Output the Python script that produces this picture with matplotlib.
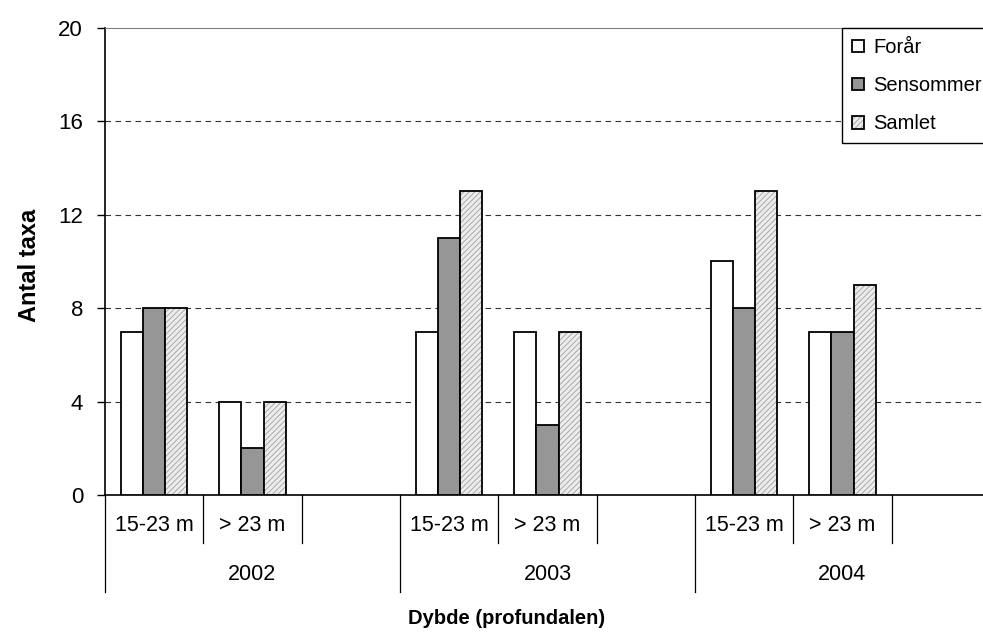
import matplotlib
matplotlib.use("Agg")
import matplotlib.pyplot as plt
import matplotlib.transforms as mtransforms
import numpy as np

plt.rcParams.update({
    "font.family": ["Liberation Sans", "DejaVu Sans"],
    "hatch.linewidth": 0.6,
})

# data
years = ["2002", "2003", "2004"]
depths = ["15-23 m", "> 23 m"]
series = ["Forår", "Sensommer", "Samlet"]
forar = [7, 4, 7, 7, 10, 7]
sensommer = [8, 2, 11, 3, 8, 7]
samlet = [8, 4, 13, 7, 13, 9]
yticks = [0, 4, 8, 12, 16, 20]

# each year has two depth slots plus one empty slot
slots_per_year = 3
xpos = np.array([y * slots_per_year + d for y in range(len(years)) for d in range(len(depths))])

fig = plt.figure(figsize=(9.83, 6.32), dpi=100)
ax = fig.add_axes([0.1068, 0.2168, 0.9003, 0.7389])

bw = 0.225
styles = [
    dict(facecolor="white"),
    dict(facecolor="#969696"),
    dict(facecolor="#ececec", hatch="//////"),
]
handles = []
for i, (vals, st) in enumerate(zip([forar, sensommer, samlet], styles)):
    bars = ax.bar(xpos + (i - 1) * bw, vals, bw, edgecolor="black", linewidth=1.3,
                  zorder=3, label=series[i], **st)
    if "hatch" in st:
        for b in bars:
            b._hatch_color = matplotlib.colors.to_rgba("#a0a0a0")
    handles.append(bars)

n_slots = len(years) * slots_per_year
ax.set_xlim(-0.5, n_slots - 0.5)
ax.set_ylim(0, 20)
ax.set_yticks(yticks)
ax.tick_params(axis="y", direction="out", length=5.8, pad=10, labelsize=16, width=1)
ax.set_xticks([])
for v in yticks[1:-1]:
    ax.axhline(v, color="#333333", linestyle=(0, (5, 4)), linewidth=0.8, zorder=1)

ax.spines["left"].set_linewidth(1.2)
ax.spines["bottom"].set_linewidth(1.2)
ax.spines["top"].set_color("#808080")
ax.spines["right"].set_color("#808080")

# multi-level category axis
trans = mtransforms.blended_transform_factory(ax.transData, ax.transAxes)
for k in range(n_slots + 1):
    x = k - 0.5
    low = -0.208 if k % slots_per_year == 0 else -0.103
    ax.plot([x, x], [0, low], color="black", lw=0.9, transform=trans, clip_on=False)
for y, yr in enumerate(years):
    for d, dp in enumerate(depths):
        ax.text(y * slots_per_year + d, -0.066, dp, transform=trans, ha="center",
                va="center", fontsize=15.5)
    ax.text(y * slots_per_year + 1, -0.171, yr, transform=trans, ha="center",
            va="center", fontsize=15.5)

fig.text(507 / 983, 1 - 618 / 632, "Dybde (profundalen)", ha="center", va="center",
         fontsize=14.5, fontweight="bold")
fig.text(29 / 983, 1 - 265 / 632, "Antal taxa", ha="center", va="center",
         fontsize=17, fontweight="bold", rotation=90)

leg = fig.legend(handles=handles, labels=series, loc="upper left",
                 bbox_to_anchor=(842 / 983, 1 - 28 / 632), fontsize=14.5,
                 frameon=True, fancybox=False, edgecolor="black", framealpha=1,
                 handlelength=0.6, handleheight=0.6, handletextpad=0.45,
                 borderpad=0.5, labelspacing=0.95, borderaxespad=0)
leg.get_frame().set_linewidth(1.0)

fig.savefig("out.png", dpi=100)
